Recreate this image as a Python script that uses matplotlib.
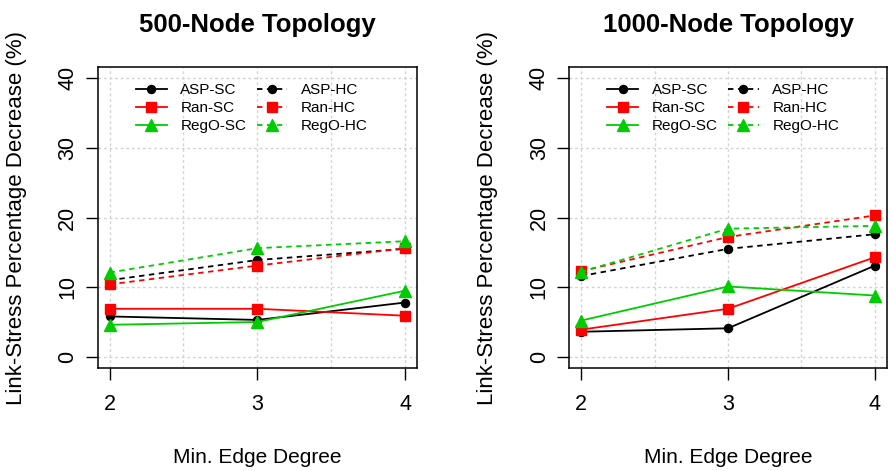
import matplotlib
matplotlib.use("Agg")
import matplotlib.pyplot as plt

plt.rcParams["font.family"] = ["Liberation Sans", "DejaVu Sans"]

# x values (min. edge degree)
degrees = [2, 3, 4]

# 500-node topology
asp_sc_500 = [5.8, 5.3, 7.8]
ran_sc_500 = [6.9, 6.9, 5.9]
rego_sc_500 = [4.6, 5.0, 9.5]
asp_hc_500 = [11.0, 13.9, 15.5]
ran_hc_500 = [10.4, 13.1, 15.6]
rego_hc_500 = [12.1, 15.6, 16.6]

# 1000-node topology
asp_sc_1000 = [3.6, 4.1, 13.1]
ran_sc_1000 = [3.9, 6.9, 14.3]
rego_sc_1000 = [5.2, 10.1, 8.8]
asp_hc_1000 = [11.6, 15.5, 17.6]
ran_hc_1000 = [12.3, 17.2, 20.3]
rego_hc_1000 = [12.2, 18.4, 18.8]

labels = ["ASP-SC", "Ran-SC", "RegO-SC", "ASP-HC", "Ran-HC", "RegO-HC"]
titles = ["500-Node Topology", "1000-Node Topology"]
y_ticks = [0, 10, 20, 30, 40]
x_grid = [2, 2.5, 3, 3.5, 4]

green = "#00CC00"
colors = ["black", "red", green, "black", "red", green]
markers = ["o", "s", "^", "o", "s", "^"]
msizes = [5.8, 6.8, 8.6, 5.8, 6.8, 8.6]
styles = ["-", "-", "-", (0, (3, 2.5)), (0, (3, 2.5)), (0, (3, 2.5))]

panels = [
    [asp_sc_500, ran_sc_500, rego_sc_500, asp_hc_500, ran_hc_500, rego_hc_500],
    [asp_sc_1000, ran_sc_1000, rego_sc_1000, asp_hc_1000, ran_hc_1000, rego_hc_1000],
]

fig = plt.figure(figsize=(8.9, 4.71), dpi=100)
ax_pos = [[0.1098, 0.2187, 0.3588, 0.639], [0.6397, 0.2187, 0.3566, 0.639]]

for i in range(2):
    ax = fig.add_axes(ax_pos[i])
    for g in x_grid:
        ax.axvline(g, color="#D3D3D3", lw=1, ls=(0, (2, 2)), zorder=0)
    for t in y_ticks:
        ax.axhline(t, color="#D3D3D3", lw=1, ls=(0, (2, 2)), zorder=0)

    for k in range(6):
        ax.plot(degrees, panels[i][k], color=colors[k], marker=markers[k],
                markersize=msizes[k], linestyle=styles[k], lw=1.3,
                label=labels[k], clip_on=False)

    ax.set_xlim(1.92, 4.08)
    ax.set_ylim(-1.6, 41.6)
    ax.set_xticks(degrees)
    ax.set_yticks(y_ticks)
    ax.tick_params(axis="both", length=8.6, width=1, labelsize=15.5, color="black")
    ax.tick_params(axis="x", pad=10)
    ax.tick_params(axis="y", pad=5.5)
    for lab in ax.get_yticklabels():
        lab.set_rotation(90)
        lab.set_va("center")
    for sp in ax.spines.values():
        sp.set_linewidth(1.1)

    ax.set_title(titles[i], fontsize=18.5, fontweight="bold", pad=25)
    ax.set_ylabel("Link-Stress Percentage Decrease (%)", fontsize=16, va="center")
    ax.yaxis.set_label_coords(-0.253 if i == 0 else -0.259, 0.5)
    ax.set_xlabel("Min. Edge Degree", fontsize=15, va="center")
    ax.xaxis.set_label_coords(0.5, -0.296)

    ax.legend(loc="upper left", bbox_to_anchor=(0.12, 0.946), ncol=2,
              frameon=False, fontsize=11, handlelength=2.0,
              handletextpad=0.9, columnspacing=0.67, labelspacing=0.25,
              borderpad=0, borderaxespad=0)

fig.savefig("out.png", dpi=100)
